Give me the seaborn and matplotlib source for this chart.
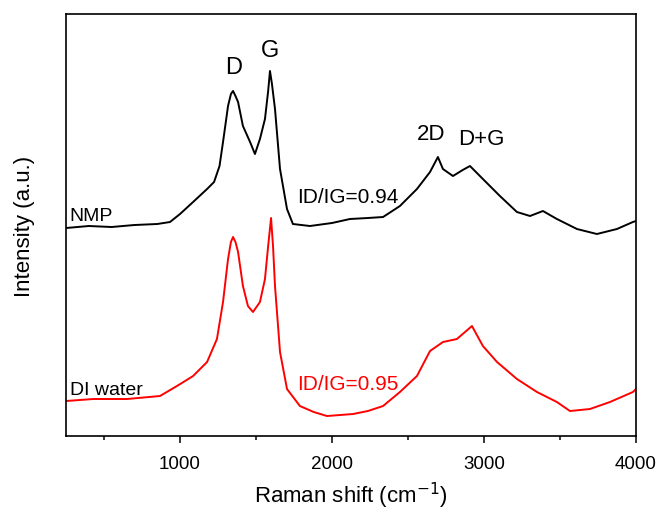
import numpy as np
import pandas as pd
import matplotlib
matplotlib.use("Agg")
import matplotlib.pyplot as plt
from matplotlib.ticker import MultipleLocator
import seaborn as sns

# Raman spectra (offset intensity, a.u.)
nmp_shift = [250, 400, 550, 700, 850, 934, 1000, 1086, 1178, 1224, 1260, 1283, 1316,
             1335, 1349, 1365, 1382, 1414, 1461, 1493, 1526, 1559, 1580, 1592, 1605,
             1625, 1658, 1704, 1743, 1855, 2000, 2118, 2236, 2336, 2447, 2559, 2645,
             2697, 2730, 2796, 2860, 2908, 2993, 3105, 3217, 3303, 3388, 3480, 3612,
             3743, 3875, 3980, 4000]
nmp_int = [208, 210, 209, 211, 212, 214, 222, 234, 247, 254, 270, 294, 330,
           342, 345, 340, 334, 310, 294, 282, 297, 317, 345, 365, 352,
           327, 267, 227, 212, 210, 213, 217, 218, 219, 230, 247, 264,
           279, 267, 260, 266, 270, 257, 240, 224, 220, 225, 217, 207,
           202, 207, 214, 215]

water_shift = [250, 428, 651, 868, 980, 1086, 1178, 1243, 1283, 1316, 1335, 1349,
               1365, 1382, 1414, 1447, 1480, 1526, 1559, 1580, 1599, 1612, 1625,
               1658, 1704, 1789, 1880, 1967, 2138, 2236, 2336, 2447, 2559, 2645,
               2730, 2822, 2921, 2993, 3086, 3217, 3349, 3480, 3566, 3697, 3829,
               3980, 4000]
water_int = [35, 37, 37, 40, 50, 60, 74, 97, 134, 177, 194, 199,
             194, 184, 150, 130, 124, 134, 157, 190, 218, 190, 150,
             84, 47, 30, 24, 20, 22, 25, 30, 44, 60, 85,
             94, 97, 110, 90, 74, 57, 44, 34, 25, 27, 34,
             44, 47]

samples = ["NMP", "DI water"]
ratios = ["ID/IG=0.94", "ID/IG=0.95"]
peak_labels = ["D", "G", "2D", "D+G"]

df = pd.concat([
    pd.DataFrame({"shift": nmp_shift, "intensity": nmp_int, "sample": samples[0]}),
    pd.DataFrame({"shift": water_shift, "intensity": water_int, "sample": samples[1]}),
])

sns.set_style("white")
plt.rcParams["font.family"] = ["Liberation Sans", "DejaVu Sans"]
plt.rcParams["text.color"] = "black"
plt.rcParams["axes.labelcolor"] = "black"
plt.rcParams["xtick.color"] = "black"

fig = plt.figure(figsize=(6.59, 5.10), dpi=100)
ax = fig.add_axes([0.1002, 0.1431, 0.8648, 0.8275])

sns.lineplot(data=df, x="shift", y="intensity", hue="sample",
             palette={"NMP": "black", "DI water": "red"},
             linewidth=1.4, legend=False, ax=ax, sort=False, estimator=None)

ax.set_xlim(250, 4000)
ax.set_ylim(0, 422)
ax.xaxis.set_major_locator(MultipleLocator(1000))
ax.xaxis.set_minor_locator(MultipleLocator(500))
ax.set_yticks([])
ax.tick_params(axis="x", which="major", direction="out", length=5, width=1.1,
               labelsize=13.5, bottom=True, pad=9, colors="black")
ax.tick_params(axis="x", which="minor", direction="out", length=3, width=1.1,
               bottom=True, colors="black")
for sp in ax.spines.values():
    sp.set_visible(True)
    sp.set_color("black")
    sp.set_linewidth(1.2)

ax.set_xlabel("Raman shift (cm$^{-1}$)", fontsize=16, labelpad=5, color="black")
ax.set_ylabel("Intensity (a.u.)", fontsize=16, labelpad=22, color="black")

# Peak annotations
ax.text(1355, 358, peak_labels[0], fontsize=17, ha="center", va="bottom", color="black")
ax.text(1592, 375, peak_labels[1], fontsize=17, ha="center", va="bottom", color="black")
ax.text(2651, 292, peak_labels[2], fontsize=16, ha="center", va="bottom", color="black")
ax.text(2980, 287, peak_labels[3], fontsize=16, ha="center", va="bottom", color="black")

# Sample names and intensity ratios
ax.text(275, 212, samples[0], fontsize=14, ha="left", va="bottom", color="black")
ax.text(275, 38, samples[1], fontsize=14, ha="left", va="bottom", color="black")
ax.text(1770, 230, ratios[0], fontsize=15, ha="left", va="bottom", color="black")
ax.text(1770, 43, ratios[1], fontsize=15, ha="left", va="bottom", color="red")

fig.savefig("out.png", dpi=100)
